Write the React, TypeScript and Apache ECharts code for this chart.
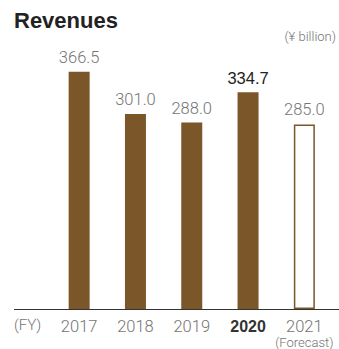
import React, { useEffect, useRef } from "react";
import * as echarts from "echarts";

const categories = ["2017", "2018", "2019", "2020", "2021"];
const revenues = [366.5, 301.0, 288.0, 334.7, 285.0];
const forecastIndex = 4;
const highlightIndex = 3;

const BROWN = "#7b5628";
const GRAY = "#747474";

export default function App() {
  const ref = useRef<HTMLDivElement>(null);
  useEffect(() => {
    if (!ref.current) return;
    const chart = echarts.init(ref.current, null, { renderer: "svg" });
    chart.setOption({
      animation: false,
      grid: { left: 51, right: 6.5, top: 50, bottom: 40 },
      xAxis: {
        type: "category",
        data: categories,
        axisLine: { show: false },
        axisTick: { show: false },
        axisLabel: {
          margin: 8,
          interval: 0,
          formatter: (v: string, i: number) => {
            if (i === highlightIndex) return `{b|${v}}`;
            if (i === forecastIndex) return `{n|${v}}\n{f|(Forecast)}`;
            return `{n|${v}}`;
          },
          rich: {
            n: { fontFamily: "Roboto", fontWeight: 300, fontSize: 16.5, color: GRAY, lineHeight: 18 },
            b: { fontFamily: "Liberation Sans", fontWeight: "bold", fontSize: 16, color: "#333", lineHeight: 18 },
            f: { fontFamily: "Roboto", fontWeight: 300, fontSize: 13, color: GRAY, lineHeight: 14 },
          },
        },
      },
      yAxis: {
        type: "value",
        min: 0,
        max: 400,
        show: false,
        splitLine: { show: false },
      },
      series: [
        {
          type: "bar",
          barWidth: 21,
          data: revenues.map((v, i) => ({
            value: v,
            itemStyle:
              i === forecastIndex
                ? { color: "#fff", borderColor: BROWN, borderWidth: 1.5 }
                : { color: BROWN },
            label: {
              show: true,
              position: "top",
              distance: 6,
              formatter: (p: any) => Number(p.value).toFixed(1),
              fontSize: 16.5,
              fontFamily: i === highlightIndex ? "Liberation Sans" : "Roboto",
              fontWeight: i === highlightIndex ? 500 : 300,
              color: i === highlightIndex ? "#222" : GRAY,
            },
          })),
        },
      ],
      graphic: [
        {
          type: "text",
          left: 14,
          top: 9,
          style: { text: "Revenues", font: "bold 22px 'Liberation Sans'", fill: "#222" },
        },
        {
          type: "text",
          right: 3,
          top: 30,
          style: { text: "(¥ billion)", font: "300 13px Roboto", fill: GRAY },
        },
        {
          type: "text",
          left: 14,
          top: 317,
          style: { text: "(FY)", font: "300 15px Roboto", fill: GRAY },
        },
        {
          type: "line",
          shape: { x1: 14, y1: 309.5, x2: 339, y2: 309.5 },
          style: { stroke: "#333", lineWidth: 1 },
          z: 10,
        },
      ],
    });
    return () => chart.dispose();
  }, []);
  return <div ref={ref} style={{ width: 339, height: 349, position: "absolute", left: 0, top: 0 }} />;
}
